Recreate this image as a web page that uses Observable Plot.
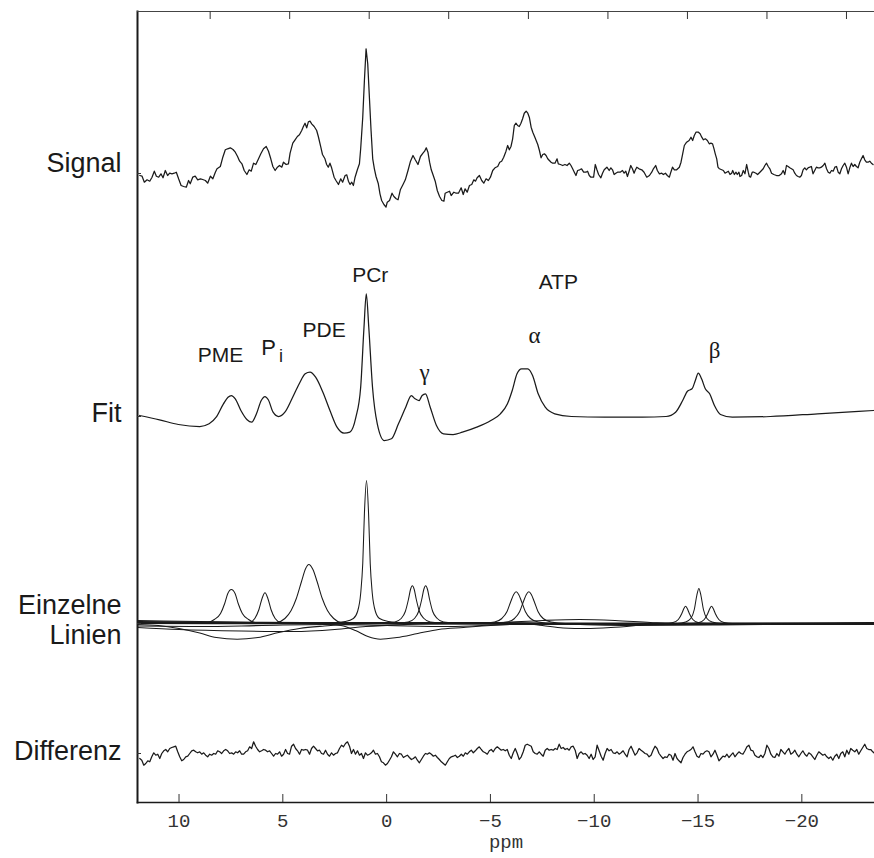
<!DOCTYPE html>
<html><head><meta charset="utf-8">
<script src="https://cdn.jsdelivr.net/npm/d3@7"></script>
<script src="https://cdn.jsdelivr.net/npm/@observablehq/plot@0.6"></script>
<style>html,body{margin:0;padding:0;background:#fff}#chart svg{display:block}</style>
</head><body><div id="chart"></div>
<script>
// ---- Data (ppm, intensity relative to each trace's baseline) ----
const signal = [
[11.89,-2],[11.78,-2.7],[11.67,-8.7],[11.54,-6.3],[11.41,-7.7],[11.30,-3.7],[11.19,2.3],[11.09,-2.7],[10.98,-3.7],[10.87,-0.3],[10.77,-4.3],[10.66,3],[10.55,-2],[10.45,0.3],[10.34,-0.3],[10.23,0.3],[10.13,1.3],[10.02,-5.3],[9.90,-12],[9.78,-13],[9.65,-13.7],[9.54,-7],[9.46,-10.3],[9.34,-3.7],[9.22,-2.7],[9.10,-6.3],[8.97,-5.3],[8.86,-6],[8.73,-7],[8.62,-9.7],[8.49,-2.7],[8.37,-5.3],[8.25,1.3],[8.17,4.7],[8.01,7],[7.89,16.3],[7.77,23.7],[7.66,24.7],[7.53,25.7],[7.40,24],[7.29,21.3],[7.18,17],[7.08,12.3],[6.97,9.7],[6.86,3],[6.73,-1],[6.62,3.7],[6.52,2.3],[6.41,10.3],[6.30,9],[6.17,14.7],[6.06,19.7],[5.93,24.7],[5.80,27],[5.69,22.3],[5.58,14.7],[5.48,7],[5.37,3],[5.26,6.3],[5.16,8],[5.05,6.3],[4.97,11.3],[4.84,9],[4.73,9.7],[4.65,20.3],[4.52,30.3],[4.41,33.7],[4.30,37],[4.20,38.7],[4.09,43],[4.01,47],[3.93,50.3],[3.85,45.7],[3.77,51.7],[3.69,52.3],[3.61,49.7],[3.49,47],[3.37,43],[3.29,37],[3.17,26.3],[3.09,19],[2.97,14.7],[2.89,9],[2.81,6.3],[2.73,10.3],[2.65,5.7],[2.53,-3.7],[2.44,-7],[2.32,-11],[2.21,-5.3],[2.12,-8.7],[2.00,-2],[1.92,-1.3],[1.84,-7.7],[1.76,-11],[1.68,-8.7],[1.60,-12],[1.52,-3.7],[1.41,3.7],[1.31,9.7],[1.25,24.7],[1.15,56.3],[1.07,93],[0.99,124.7],[0.91,109.7],[0.83,76.3],[0.75,43],[0.67,14.7],[0.59,4.7],[0.51,-3],[0.40,-10.3],[0.32,-20.3],[0.24,-27],[0.13,-31],[0.03,-33.7],
[-0.03,-28.7],[-0.14,-27],[-0.26,-19.7],[-0.35,-23],[-0.46,-25.3],[-0.55,-26.3],[-0.66,-16.3],[-0.79,-11],[-0.90,-6.3],[-1.03,3],[-1.15,12.3],[-1.27,18],[-1.38,13.7],[-1.51,9],[-1.63,17],[-1.75,20.3],[-1.83,22.3],[-1.91,25.7],[-1.99,21.3],[-2.07,11.3],[-2.15,3.7],[-2.23,-1],[-2.34,-7.7],[-2.44,-17],[-2.55,-23],[-2.66,-27],[-2.76,-27.7],[-2.82,-19.7],[-2.92,-18.7],[-3.03,-17.7],[-3.11,-22],[-3.24,-18.7],[-3.35,-19.7],[-3.46,-19.7],[-3.59,-14.3],[-3.69,-21],[-3.78,-15.3],[-3.88,-18.7],[-3.99,-12],[-4.10,-11],[-4.20,-6.3],[-4.28,-7.7],[-4.36,-4.3],[-4.47,-2],[-4.58,-7],[-4.68,-9.7],[-4.79,-5.3],[-4.90,-7],[-5.00,-3.7],[-5.11,3],[-5.22,5.7],[-5.35,7],[-5.45,11.3],[-5.54,12.3],[-5.64,16.3],[-5.75,22.3],[-5.83,28],[-5.91,23.7],[-5.99,27],[-6.07,34.7],[-6.15,48],[-6.23,50.3],[-6.31,48],[-6.39,47],[-6.47,50.3],[-6.55,54.7],[-6.63,60.3],[-6.72,62.3],[-6.80,60.3],[-6.88,55.7],[-6.96,46.3],[-7.04,41.3],[-7.15,35.7],[-7.28,29],[-7.36,23],[-7.44,15.7],[-7.52,19],[-7.60,19.7],[-7.68,18],[-7.76,14.7],[-7.84,13],[-7.92,11.3],[-8.00,10.3],[-8.11,10.3],[-8.21,14.7],[-8.27,9.7],[-8.37,9],[-8.48,8],[-8.59,9],[-8.69,8],[-8.80,10.3],[-8.88,8],[-8.96,4.7],[-9.04,1.3],[-9.12,-2],[-9.20,3],[-9.30,3.7],[-9.39,4.7],[-9.49,1.3],[-9.60,1.3],[-9.68,2.3],[-9.76,-2],[-9.84,-3.7],[-9.97,-3.7],[-10.05,9],[-10.13,3.7],[-10.21,-1],[-10.32,-4.3],[-10.40,0.3],[-10.48,3.7],[-10.61,6.3],[-10.72,3],[-10.80,5.7],[-10.88,3.7],[-10.96,-1],[-11.04,0.3],[-11.12,1.3],[-11.25,1.3],[-11.36,3],[-11.44,0.3],[-11.52,2.3],[-11.60,-3],[-11.68,2.3],[-11.76,8],[-11.84,4.7],[-11.92,0.3],
[-11.97,3],[-12.05,6.3],[-12.16,4.7],[-12.29,3.7],[-12.40,1.3],[-12.53,-3.7],[-12.66,-2],[-12.77,1.3],[-12.85,4.7],[-12.96,8],[-13.04,3],[-13.14,-0.3],[-13.25,0.3],[-13.33,-1],[-13.43,0.3],[-13.52,-2],[-13.62,-3.7],[-13.69,1.3],[-13.77,6.3],[-13.86,3.7],[-13.97,3.7],[-14.10,6.3],[-14.18,11.3],[-14.26,19.7],[-14.34,28],[-14.45,31.3],[-14.57,33],[-14.66,36.3],[-14.74,33],[-14.82,38],[-14.90,41.3],[-15.02,41.3],[-15.10,39.7],[-15.18,36.3],[-15.26,33.7],[-15.35,34.7],[-15.45,33],[-15.54,29.7],[-15.62,30.3],[-15.70,29.7],[-15.77,24.7],[-15.83,19.7],[-15.90,14.7],[-15.96,6.3],[-16.03,4.7],[-16.14,3.7],[-16.22,3],[-16.30,0.3],[-16.38,1.3],[-16.46,2.3],[-16.54,-1],[-16.62,0.3],[-16.67,3],[-16.75,-1],[-16.83,1.3],[-16.89,-1],[-16.97,1.3],[-17.02,-3],[-17.10,-2],[-17.18,3],[-17.26,-0.3],[-17.34,9],[-17.42,1.3],[-17.47,-3],[-17.53,-3.7],[-17.61,1.3],[-17.69,1.3],[-17.79,0.3],[-17.87,-1],[-17.98,1.3],[-18.06,3],[-18.14,4.7],[-18.22,8],[-18.30,10.3],[-18.38,7],[-18.46,4.7],[-18.54,0.3],[-18.65,-1],[-18.78,-2],[-18.91,-2],[-19.02,-0.3],[-19.10,3],[-19.18,-1],[-19.26,8],[-19.34,7],[-19.42,5.7],[-19.50,4.7],[-19.58,3.7],[-19.66,0.3],[-19.74,-2],[-19.82,-3],[-19.90,-3.7],[-19.98,-2],[-20.06,3.7],[-20.14,5.7],[-20.22,3.7],[-20.30,5.7],[-20.38,6.3],[-20.46,7],[-20.54,-0.3],[-20.62,3],[-20.70,6.3],[-20.78,5.7],[-20.86,5.7],[-20.94,6.3],[-21.03,8],[-21.11,10.3],[-21.19,4.7],[-21.27,1.3],[-21.35,0.3],[-21.43,3],[-21.51,2.3],[-21.59,6.3],[-21.67,7],[-21.75,1.3],[-21.83,-0.3],[-21.91,4.7],[-21.99,8],[-22.07,10.3],[-22.15,6.3],[-22.23,-0.3],[-22.31,5.7],[-22.39,10.3],[-22.47,7],[-22.55,9],[-22.63,7],[-22.71,5.7],[-22.79,11.3],[-22.87,14.7],[-22.95,18],[-23.03,13.7],[-23.11,11.3],[-23.19,11.3],[-23.27,12.3],[-23.35,10.3],[-23.43,9]
];

const fit = [
[11.90,1],[10.94,-3.3],[10.03,-8],[9.00,-10],[8.55,-7.3],[8.21,-0.7],[7.86,12.7],[7.64,19.3],[7.48,21],[7.29,17.7],[7.02,6],[6.72,-3.3],[6.50,-5.7],[6.27,2.7],[6.04,16],[5.86,20],[5.70,16.7],[5.47,4.3],[5.20,0],[4.90,4.3],[4.56,17.7],[4.21,32.7],[3.92,42.7],[3.69,44.3],[3.42,39.3],[3.07,24.3],[2.73,6],[2.39,-10.7],[2.05,-16.7],[1.77,-15.7],[1.48,-0.7],[1.25,29.3],[1.09,89.3],[0.98,122.7],[0.86,89.3],[0.68,29.3],[0.45,-7.3],[0.11,-24],[-0.23,-22.3],[-0.57,-7.3],[-0.92,9.3],[-1.19,21],[-1.37,17.7],[-1.56,16],[-1.71,21],[-1.87,22.7],[-2.10,9.3],[-2.40,-9],[-2.74,-17.3],[-3.20,-18],[-3.65,-15.7],[-4.34,-10.7],[-5.02,-4],[-5.48,2.7],[-5.82,12.7],[-6.05,26],[-6.28,42.7],[-6.50,47.7],[-6.80,47.7],[-7.03,41],[-7.30,22.7],[-7.64,9.3],[-8.10,2.7],[-8.90,0],[-10.50,-0.7],[-12.32,-0.7],[-13.46,0],[-13.92,4.3],[-14.26,16],[-14.49,25.3],[-14.71,27.7],[-14.87,36],[-15.01,43.3],[-15.17,37.7],[-15.35,27.7],[-15.56,22.7],[-15.79,11],[-16.08,2],[-16.65,-0.7],[-18.48,0],[-20.76,2.7],[-23.45,6]
];

// individual fitted lines
const linePME = [[12,0],[9.5,0],[8.6,1],[8.3,4],[8.0,10],[7.8,20],[7.65,30],[7.48,34],[7.3,30],[7.15,20],[6.95,10],[6.65,4],[6.35,1],[5.5,0],[-23.5,0]];
const linePi = [[12,0],[7,0],[6.6,1],[6.35,5],[6.15,14],[6.0,25],[5.86,30.7],[5.72,25],[5.57,14],[5.37,5],[5.1,1],[4.5,0],[-23.5,0]];
const linePDE = [[12,0],[6,0],[5.3,1],[4.9,5],[4.6,13],[4.35,25],[4.1,42],[3.9,55],[3.75,59],[3.55,54],[3.35,42],[3.1,25],[2.85,13],[2.55,5],[2.2,1],[1.5,0],[-23.5,0]];
const linePCr = [[12,0],[3,0],[2,2],[1.6,5],[1.4,12],[1.25,30],[1.15,60],[1.07,110],[0.97,143],[0.87,110],[0.79,60],[0.69,30],[0.54,12],[0.34,5],[-0.1,2],[-1,0],[-23.5,0]];
const lineGamma1 = [[12,0],[0.3,0],[-0.4,1.5],[-0.7,5],[-0.9,12],[-1.05,24],[-1.15,34],[-1.24,37.7],[-1.33,34],[-1.43,24],[-1.58,12],[-1.8,5],[-2.1,1.5],[-3,0],[-23.5,0]];
const lineGamma2 = [[12,0],[-0.3,0],[-1.04,1.5],[-1.34,5],[-1.54,12],[-1.69,24],[-1.79,34],[-1.88,37.7],[-1.97,34],[-2.07,24],[-2.22,12],[-2.44,5],[-2.74,1.5],[-3.6,0],[-23.5,0]];
const lineAlpha1 = [[12,0],[-4.5,0],[-5.2,1.5],[-5.55,5],[-5.8,12],[-5.98,22],[-6.12,29],[-6.24,31.7],[-6.36,29],[-6.5,22],[-6.68,12],[-6.93,5],[-7.3,1.5],[-8,0],[-23.5,0]];
const lineAlpha2 = [[12,0],[-5.1,0],[-5.81,1.5],[-6.16,5],[-6.41,12],[-6.59,22],[-6.73,29],[-6.85,31.7],[-6.97,29],[-7.11,22],[-7.29,12],[-7.54,5],[-7.91,1.5],[-8.6,0],[-23.5,0]];
const lineBeta1 = [[12,0],[-13.4,0],[-13.8,1],[-14.05,4],[-14.22,10],[-14.32,15],[-14.4,17.3],[-14.48,15],[-14.58,10],[-14.75,4],[-15.0,1],[-15.4,0],[-23.5,0]];
const lineBeta2 = [[12,0],[-14.0,0],[-14.4,1.5],[-14.65,5],[-14.82,14],[-14.94,28],[-15.04,35],[-15.14,28],[-15.26,14],[-15.43,5],[-15.68,1.5],[-16.1,0],[-23.5,0]];
const lineBeta3 = [[12,0],[-14.65,0],[-15.05,1],[-15.3,4],[-15.47,10],[-15.57,15],[-15.65,17.3],[-15.73,15],[-15.83,10],[-16.0,4],[-16.25,1],[-16.65,0],[-23.5,0]];
const lineBroad1 = [[12,-1],[11,-2],[10,-5],[9,-9.5],[8.2,-14],[7.2,-15.7],[6.2,-14],[5.2,-9],[4.2,-5],[3,-2.5],[2,-1],[0,0],[-23.5,0]];
const lineBroad2 = [[12,0],[3,-0.5],[2.2,-2],[1.5,-7],[0.9,-13],[0.3,-15.7],[-0.5,-14],[-1.5,-10],[-2.5,-6],[-3.7,-4],[-5,-2],[-6.5,-0.5],[-8,0],[-23.5,0]];
const lineBroad3 = [[12,0],[-4.5,0],[-6,1.5],[-7.5,3],[-9.3,4],[-11,3],[-12.7,1],[-14,0],[-23.5,0]];
const lineBroad4 = [[12,0],[-6.5,0],[-7.5,-2],[-8.5,-4.5],[-9.6,-5],[-10.8,-4],[-12,-2],[-13,0],[-23.5,0]];
const lineBroad5 = [[12,-4],[10,-6],[7,-7.5],[4.5,-8],[2.5,-6],[1,-3],[-1,-1],[-3,0],[-23.5,-0.5]];
const lineBroad6 = [[12,2],[8,1.5],[4,1],[0,0.5],[-10,0.5],[-23.5,0]];
const lineBroad7 = [[12,3],[9,2],[5,0.5],[0,-0.5],[-12,-1],[-23.5,-1]];
const lineBroad8 = [[12,-2.5],[9,-3],[6,-2],[3,-1],[0,-2],[-3,-3],[-6,-1],[-23.5,1]];
const lineBroad9 = [[12,1],[-5,1],[-12,-2],[-16,-1.5],[-23.5,0.5]];
const componentLines = [linePME, linePi, linePDE, linePCr, lineGamma1, lineGamma2, lineAlpha1, lineAlpha2, lineBeta1, lineBeta2, lineBeta3, lineBroad1, lineBroad2, lineBroad3, lineBroad4, lineBroad5, lineBroad6, lineBroad7, lineBroad8, lineBroad9];

// residual, sampled on the spectrum's uniform ppm grid
const differenzStartPpm = 11.89;
const differenzStepPpm = -0.0962;
const differenz = [
-5,-6.7,-11.7,-10,-7.3,-8.3,-3.3,0.7,-1.7,-0.7,-5,0,2.7,4,1.7,5,6,6.7,7.3,1.7,-3.3,-7.3,-6,-3.3,-2.7,0,2.7,3.3,1.7,0.7,1.7,-0.7,0.7,-1.7,-3.3,-0.7,-1.7,0,-0.7,2.7,1.7,0,2.7,4,2.7,0,0.7,-0.7,1.7,0.7,2.7,-0.7,-0.7,1.7,2.7,6.7,5,11.7,7.3,4,1.7,2.7,4,3.3,1.7,2.7,0,-2.7,0,-0.7,1.7,-2.7,-0.7,4,0,-0.7,7.3,9.3,5,2.7,-0.7,4,3.3,4,3.3,-0.7,5,7.3,5,2.7,3.3,0,-0.7,3.3,-0.7,-2.7,0.7,-1.7,0,0.7,5,8.3,6.7,10,11.7,7.3,0,4,-0.7,2.7,-1.7,0,-5,0.7,-1.7,-0.7,0.7,3.3,-0.7,0,-3.3,-8.3,-9.3,-11.7,-10,-6.7,-3.3,1.7,-0.7,-3.3,0,-0.7,-4,-2.7,-1.7,-4,-6,-5,-3.3,-6.7,-9.3,-6,-2.7,0,-0.7,0.7,-0.7,-2.7,-1.7,-4,-6,-8.3,-10,-11.7,-8.3,-5,-3.3,-2.7,-1.7,-4,-2.7,-0.7,-2.7,0.7,-0.7,1.7,3.3,0.7,2.7,5,6.7,4,1.7,0.7,-0.7,2.7,4,1.7,5,6.7,5,3.3,4,2.7,4,
-1.7,-5,0.7,5,0,-6,-3.3,1.7,8.3,9.3,8.3,7.3,1.7,0,-0.7,1.7,-0.7,-2.7,3.3,5,3.3,4,3.3,5,4,9.3,5,6,4,5,3.3,6.7,7.3,3.3,-5,0,1.7,-0.7,0,-1.7,-5,-0.7,-6,-3.3,8.3,2.7,-2.7,-6.7,0,5,2.7,4,0.7,0,1.7,-0.7,0.7,2.7,-0.7,-3.3,4,7.3,2.7,-1.7,0.7,5,3.3,1.7,0,-0.7,-3.3,-1.7,3.3,7.3,5,0,-2.7,-5,-3.3,-4,-0.7,-1.7,-6.7,0,-5,-7.3,-9.3,-4,-0.7,1.7,2.7,4,6.7,1.7,-2.7,-4,0,-0.7,1.7,2.7,1.7,-3.3,-0.7,3.3,-1.7,-7.3,-5,-2.7,-3.3,-0.7,-4,-1.7,0.7,-3.3,-0.7,1.7,0,-0.7,2.7,6.7,8.3,3.3,2.7,-1.7,-3.3,-4,-1.7,-4,0,8.3,5,-0.7,-3.3,-4,0,-2.7,4,1.7,-0.7,2.7,5,-0.7,0.7,3.3,-0.7,-3.3,0,2.7,-0.7,-2.7,0.7,-0.7,-3.3,-6,-1.7,1.7,0,-1.7,-0.7,-3.3,-5,-3.3,-6.7,-2.7,-0.7,-5,0,1.7,-3.3,3.3,-0.7,5,3.3,1.7,4,-0.7,2.7,6,9.3,5,4,4,1.7,0
];

const traceLabels = ["Signal", "Fit", "Einzelne\nLinien", "Differenz"];
const traceOffsets = [629, 386, 179, 49];
const labelLevels = [640, 390, 183, 52];
const bottomTicks = [10, 5, 0, -5, -10, -15, -20];
const topTicks = [8.50, 4.67, 0.84, -2.99, -6.83, -10.66, -14.49, -18.32, -22.15];
const peakNames = ["PME", "P", "i", "PDE", "PCr", "ATP", "α", "γ", "β"];
const peakPpm = [8.00, 5.68, 5.09, 3.01, 0.79, -8.27, -7.12, -1.83, -15.80];
const peakLevel = [447, 455, 446, 472, 527, 520, 467, 430, 452];
const peakFont = ["sans", "sans", "sans", "sans", "sans", "sans", "serif", "serif", "serif"];
const peakSize = [21, 22, 18, 21, 21, 21, 23, 23, 23];

// ---- build tables ----
const rows = [];
signal.forEach(([p, v]) => rows.push({ppm: p, y: traceOffsets[0] + v, id: "signal"}));
fit.forEach(([p, v]) => rows.push({ppm: p, y: traceOffsets[1] + v, id: "fit"}));
componentLines.forEach((arr, k) => arr.forEach(([p, v]) => rows.push({ppm: p, y: traceOffsets[2] + v, id: "line" + k})));
differenz.forEach((v, i) => rows.push({ppm: differenzStartPpm + i * differenzStepPpm, y: traceOffsets[3] + v, id: "diff"}));
const curveOf = id => id === "signal" || id === "diff" ? "linear" : "monotone-x";
const peakRows = peakNames.map((t, i) => ({t, ppm: peakPpm[i], y: peakLevel[i], f: peakFont[i], s: peakSize[i]}));
const labelMap = new Map(labelLevels.map((v, i) => [v, traceLabels[i]]));

const W = 874, H = 858, mL = 137, mR = 0, mT = 11, mB = 56;
const innerH = H - mT - mB, innerW = W - mL - mR;
const sans = "'Liberation Sans', Arial, Helvetica, sans-serif";
const serif = "'Liberation Serif', 'Times New Roman', serif";
const mono = "'Liberation Mono', 'DejaVu Sans Mono', monospace";
const ink = "#1a1a1a";

const lineMarks = ["signal", "fit", "diff", ...componentLines.map((_, k) => "line" + k)].map(id =>
  Plot.line(rows.filter(r => r.id === id), {x: "ppm", y: "y", curve: curveOf(id), stroke: ink,
    strokeWidth: id.startsWith("line") ? 1.05 : 1.25})
);

const chart = Plot.plot({
  width: W, height: H, marginLeft: mL, marginRight: mR, marginTop: mT, marginBottom: mB,
  x: {domain: [12, -23.5], axis: null},
  y: {domain: [0, innerH], axis: null},
  style: {fontFamily: sans, background: "#fff", color: ink, overflow: "visible"},
  marks: [
    ...lineMarks,
    Plot.frame({anchor: "left", stroke: ink, strokeWidth: 2}),
    Plot.frame({anchor: "bottom", stroke: ink, strokeWidth: 1.5}),
    Plot.frame({anchor: "top", stroke: "#444", strokeWidth: 1}),
    Plot.tickX(bottomTicks, {x: d => d, stroke: "#333", insetTop: innerH - 8}),
    Plot.tickX(topTicks, {x: d => d, stroke: "#333", insetBottom: innerH - 8}),
    Plot.tickY(traceOffsets, {y: d => d, stroke: "#333", insetRight: innerW - 4}),
    Plot.axisX(bottomTicks, {anchor: "bottom", tickSize: 0, tickPadding: 11, fontFamily: mono, fontSize: 19, fill: "#333", label: null}),
    Plot.axisY(labelLevels, {anchor: "left", tickSize: 0, tickPadding: 16, tickFormat: d => labelMap.get(d), fontSize: 27, fontFamily: sans, fill: ink, lineHeight: 1.1, label: null}),
    Plot.text(["ppm"], {frameAnchor: "bottom", dy: 45, fontFamily: mono, fontSize: 19, fill: "#333"}),
    Plot.text(peakRows.filter(d => d.f === "sans"), {x: "ppm", y: "y", text: "t", fontFamily: sans, fontSize: d => d.s, fill: ink}),
    Plot.text(peakRows.filter(d => d.f === "serif"), {x: "ppm", y: "y", text: "t", fontFamily: serif, fontSize: d => d.s, fill: ink})
  ]
});
document.getElementById("chart").appendChild(chart);
</script>
</body></html>
